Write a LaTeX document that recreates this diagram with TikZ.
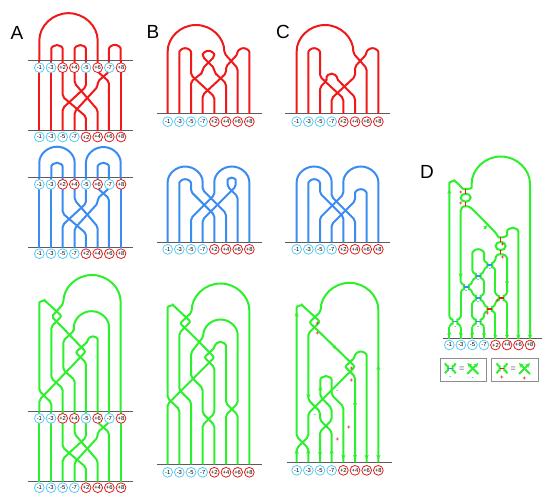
\documentclass[tikz,border=0pt]{standalone}
\usepackage{fontspec}
\setmainfont{Liberation Sans}
\usetikzlibrary{arrows.meta}

\definecolor{redS}{RGB}{240,24,24}
\definecolor{blueS}{RGB}{58,140,240}
\definecolor{greenS}{RGB}{44,240,44}
\definecolor{cyanL}{RGB}{88,204,246}
\definecolor{redL}{RGB}{226,28,28}
\definecolor{greyL}{RGB}{92,92,92}

\tikzset{
  strand/.style={line width=2pt,rounded corners=2pt},
  hline/.style={greyL,line width=1pt},
  lab/.style={circle,draw,line width=0.8pt,fill=white,inner sep=0pt,minimum size=9.8pt,font=\fontsize{5.8}{5.8}\selectfont},
  panel/.style={font=\fontsize{19}{19}\selectfont,inner sep=0pt},
  arrtip/.style={-{Stealth[length=4.5pt,width=4.2pt]},greenS,line width=1.2pt},
  pmark/.style={font=\fontsize{6}{6}\selectfont\bfseries,text=redL,inner sep=0pt},
  mmark/.style={font=\fontsize{6}{6}\selectfont\bfseries,text=blueS,inner sep=0pt},
  barb/.style={line width=1.3pt},
  legbox/.style={draw=greyL!70,line width=1pt}
}

%%%%% label rows (x0, dx, y, name)
\newcommand{\toprow}[4]{%
  \foreach \t/\c [count=\i] in {-1/cyanL,-3/cyanL,+2/redL,+4/redL,-5/cyanL,+6/redL,-7/cyanL,+8/redL}
    \node[lab,draw=\c] (#4\i) at ({#1+(\i-1)*#2},#3) {\t};}
\newcommand{\botrow}[4]{%
  \foreach \t/\c [count=\i] in {-1/cyanL,-3/cyanL,-5/cyanL,-7/cyanL,+2/redL,+4/redL,+6/redL,+8/redL}
    \node[lab,draw=\c] (#4\i) at ({#1+(\i-1)*#2},#3) {\t};}
%%%%% smoothing: tracks xa, xb, height y, bar colour
\newcommand{\smoothing}[4]{%
  \draw[strand,greenS] (#1,#3-15) .. controls (#1,#3-7) and ({(#1+#2)/2-7},#3-8) .. ({(#1+#2)/2-7},#3) .. controls ({(#1+#2)/2-7},#3+8) and (#1,#3+7) .. (#1,#3+15);
  \draw[strand,greenS] (#2,#3-15) .. controls (#2,#3-7) and ({(#1+#2)/2+7},#3-8) .. ({(#1+#2)/2+7},#3) .. controls ({(#1+#2)/2+7},#3+8) and (#2,#3+7) .. (#2,#3+15);
  \draw[#4,barb] ({(#1+#2)/2-7},#3)--({(#1+#2)/2+7},#3);}

\begin{document}
\begin{tikzpicture}[x=1pt,y=-1pt]
\useasboundingbox (0,0) rectangle (555,497);

%%%%% panel letters
\node[panel] (labA) at (17,33) {A};
\node[panel] (labB) at (153,32) {B};
\node[panel] (labC) at (283,32) {C};
\node[panel] (labD) at (427,172) {D};

%%%%% A: the same lower braid three times
\foreach \dy/\col [count=\k] in {0/redS,116.7/blueS,350.7/greenS}{
\begin{scope}[shift={(0,\dy)},scale=1/3]
\draw[hline] (85,183)--(400,183);
\draw[hline] (85,393)--(400,393);
\draw[strand,\col] (118,183)--(118,393);
\draw[strand,\col] (154,183)--(154,393);
\draw[strand,\col] (188,183)--(188,290)--(258,350)--(258,393);
\draw[strand,\col] (224,183)--(224,250)--(293,330)--(293,393);
\draw[strand,\col] (258,183)--(258,260)--(188,325)--(188,393);
\draw[strand,\col] (293,183)--(293,215)--(327,245)--(327,393);
\draw[strand,\col] (327,183)--(327,215)--(293,245)--(293,260)--(224,335)--(224,393);
\draw[strand,\col] (362,183)--(362,393);
\toprow{118}{35}{203}{t\k}
\botrow{118}{35}{411}{b\k}
\end{scope}}

%%%%% A red caps
\begin{scope}[scale=1/3]
\draw[strand,redS] (118,183)--(118,127) arc[start angle=180,end angle=360,radius=87.5]--(293,183);
\draw[strand,redS] (154,183)--(154,152) arc[start angle=180,end angle=360,radius=17]--(188,183);
\draw[strand,redS] (224,183)--(224,152) arc[start angle=180,end angle=360,radius=17]--(258,183);
\draw[strand,redS] (327,183)--(327,152) arc[start angle=180,end angle=360,radius=17.5]--(362,183);
\end{scope}

%%%%% A blue caps
\begin{scope}[shift={(0,116.7)},scale=1/3]
\draw[strand,blueS] (118,183)--(118,143) arc[start angle=180,end angle=360,radius=53]--(224,183);
\draw[strand,blueS] (154,183)--(154,155) arc[start angle=180,end angle=360,radius=17]--(188,183);
\draw[strand,blueS] (258,183)--(258,143) arc[start angle=180,end angle=360,radius=52]--(362,183);
\draw[strand,blueS] (293,183)--(293,155) arc[start angle=180,end angle=360,radius=17]--(327,183);
\end{scope}

%%%%% A green upper part
\begin{scope}[shift={(30,270)},scale=1/3]
\draw[strand,greenS] (272,425)--(272,101) arc[start angle=0,end angle=-180,radius=86]--(65,140)--(97,172)--(167,245)--(28,390)--(28,425);
\draw[strand,greenS] (64,425)--(64,398)--(28,363)--(28,104) arc[start angle=180,end angle=315,radius=12]--(95,138)--(64,170)--(64,325)--(98,355)--(98,425);
\draw[strand,greenS] (237,425)--(237,176) arc[start angle=0,end angle=-180,radius=52.5]--(132,182)--(100,212)--(100,300)--(134,330)--(134,425);
\draw[strand,greenS] (203,425)--(203,213) arc[start angle=0,end angle=-180,radius=14]--(137,247)--(168,278)--(168,425);
\end{scope}

%%%%% B red
\begin{scope}[shift={(160,40)},scale=1/3]
\draw[hline] (-10,221)--(305,221);
\draw[strand,redS] (23,221)--(23,40) arc[start angle=180,end angle=360,radius=85]--(233,85)--(233,221);
\draw[strand,redS] (268,221)--(268,42) arc[start angle=0,end angle=-180,radius=17.5]--(198,80)--(198,100)--(128,165)--(128,221);
\draw[strand,redS] (58,221)--(58,42) arc[start angle=180,end angle=360,radius=17.5]--(93,105)--(163,170)--(163,221);
\draw[strand,redS] (198,221)--(198,130)--(163,97)--(163,85)--(128,50) arc[start angle=180,end angle=360,radius=17.5]--(128,85)--(128,97)--(93,125)--(93,221);
\botrow{23}{35}{245}{Br}
\end{scope}

%%%%% B blue
\begin{scope}[shift={(160,165)},scale=1/3]
\draw[hline] (-10,232)--(305,232);
\draw[strand,blueS] (23,232)--(23,57) arc[start angle=180,end angle=360,radius=52.5]--(128,75)--(198,145)--(198,232);
\draw[strand,blueS] (58,232)--(58,60) arc[start angle=180,end angle=360,radius=17.5]--(93,80)--(163,150)--(163,232);
\draw[strand,blueS] (268,232)--(268,57) arc[start angle=0,end angle=-180,radius=52.5]--(163,90)--(93,160)--(93,232);
\draw[strand,blueS] (233,232)--(233,95)--(203,65)--(203,50) arc[start angle=180,end angle=360,radius=12]--(227,65)--(198,94)--(128,164)--(128,232);
\botrow{23}{35}{253}{Bb}
\end{scope}

%%%%% B green
\begin{scope}[shift={(150,270)},scale=1/3]
\draw[hline] (20,583)--(335,583);
\draw[strand,greenS] (298,583)--(298,127) arc[start angle=0,end angle=-180,radius=86.5]--(90,160)--(122,190)--(193,262)--(53,402)--(53,583);
\draw[strand,greenS] (88,583)--(88,418)--(53,385)--(53,118) arc[start angle=180,end angle=315,radius=12]--(122,155)--(88,189)--(88,360)--(123,395)--(123,583);
\draw[strand,greenS] (228,583)--(228,435)--(263,400)--(263,200) arc[start angle=0,end angle=-180,radius=51.5]--(123,248)--(123,320)--(158,355)--(158,430)--(193,465)--(193,583);
\draw[strand,greenS] (263,583)--(263,435)--(228,400)--(228,232) arc[start angle=0,end angle=-180,radius=16.5]--(163,262)--(193,292)--(193,430)--(158,465)--(158,583);
\botrow{53}{35}{607}{Bg}
\end{scope}

%%%%% C red
\begin{scope}[shift={(290,40)},scale=1/3]
\draw[hline] (-15,221)--(300,221);
\draw[strand,redS] (20,221)--(20,40) arc[start angle=180,end angle=360,radius=85]--(230,85)--(230,221);
\draw[strand,redS] (265,221)--(265,42) arc[start angle=0,end angle=-180,radius=17.5]--(195,80)--(195,110)--(125,175)--(125,221);
\draw[strand,redS] (55,221)--(55,42) arc[start angle=180,end angle=360,radius=17.5]--(90,110)--(160,175)--(160,221);
\draw[strand,redS] (90,221)--(90,142)--(110,122)--(110,116) arc[start angle=180,end angle=360,radius=15]--(195,172)--(195,221);
\botrow{20}{35}{245}{Cr}
\end{scope}

%%%%% C blue
\begin{scope}[shift={(290,165)},scale=1/3]
\draw[hline] (-15,232)--(300,232);
\draw[strand,blueS] (20,232)--(20,57) arc[start angle=180,end angle=360,radius=52.5]--(125,95)--(195,165)--(195,232);
\draw[strand,blueS] (55,232)--(55,60) arc[start angle=180,end angle=360,radius=17.5]--(90,85)--(160,155)--(160,232);
\draw[strand,blueS] (265,232)--(265,57) arc[start angle=0,end angle=-180,radius=52.5]--(160,88)--(90,158)--(90,232);
\draw[strand,blueS] (230,232)--(230,90) arc[start angle=0,end angle=-180,radius=17.5]--(195,108)--(125,178)--(125,232);
\botrow{20}{35}{253}{Cb}
\end{scope}

%%%%% C green, with orientations
\begin{scope}[shift={(280,270)},scale=1/3]
\draw[hline] (20,577)--(335,577);
\draw[strand,greenS] (295,577)--(295,125) arc[start angle=0,end angle=-180,radius=86.5]--(88,157)--(120,188)--(225,290)--(195,320)--(85,430)--(85,500)--(50,535)--(50,577);
\draw[strand,greenS] (85,577)--(85,535)--(50,500)--(50,118) arc[start angle=180,end angle=315,radius=12]--(120,155)--(85,190)--(85,390)--(120,425)--(120,450)--(155,485)--(155,577);
\draw[strand,greenS] (260,577)--(260,262) arc[start angle=0,end angle=-180,radius=17.5]--(195,290)--(225,320)--(225,577);
\draw[strand,greenS] (120,577)--(120,485)--(155,450)--(155,415)--(121,380)--(121,335) arc[start angle=180,end angle=360,radius=17]--(155,375)--(190,410)--(190,577);
\foreach \x in {50,85,120,155} \draw[arrtip] (\x,550)--(\x,538);
\foreach \x in {190,225,260,295} \draw[arrtip] (\x,555)--(\x,568);
\draw[arrtip] (50,140)--(50,126);
\draw[arrtip] (85,372)--(85,386);
\draw[arrtip] (295,300)--(295,286);
\draw[arrtip] (160,228)--(170,238);
\draw[arrtip] (225,400)--(225,412);
\draw[arrtip] (121,360)--(121,348);
\foreach \x/\y [count=\j] in {112/160,112/192,214/296,214/331,207/472,172/508}
  \node[pmark] (Cp\j) at (\x,\y) {+};
\foreach \x/\y [count=\j] in {172/366,143/404,105/437,141/472}
  \node[mmark] (Cm\j) at (\x,\y) {-};
\botrow{50}{35}{601}{Cg}
\end{scope}

%%%%% D: smoothed diagram
\begin{scope}[shift={(410,150)},scale=1/3]
\draw[hline] (98,567)--(395,567);
\draw[strand,greenS] (118,500)--(118,105) arc[start angle=180,end angle=315,radius=12] .. controls (152,108) and (157,117) .. (167,117) .. controls (177,117) and (185,115) .. (185,107) arc[start angle=180,end angle=360,radius=87.5]--(360,567);
\draw[greenS,line width=2pt] (167,143) ellipse[x radius=15,y radius=12];
\draw[strand,greenS] (152,396)--(152,190) .. controls (152,176) and (158,169) .. (167,169) .. controls (176,169) and (182,173) .. (190,180)--(256,247) .. controls (262,256) and (265,262) .. (272,262) .. controls (281,262) and (291,258) .. (291,250) arc[start angle=180,end angle=360,radius=17]--(325,567);
\draw[greenS,line width=2pt] (272,288) ellipse[x radius=15,y radius=12.5];
\draw[strand,greenS] (256,330) .. controls (256,318) and (263,313) .. (272,313) .. controls (281,313) and (291,318) .. (291,330)--(291,429);
\draw[strand,greenS] (187,363)--(187,315) arc[start angle=180,end angle=360,radius=17.5]--(222,330);
\foreach \x/\a/\b in {118/530/567,152/426/500,152/530/567,187/393/396,187/426/429,187/459/500,187/530/567,222/360/363,222/393/429,222/459/462,222/492/500,222/530/567,256/360/429,256/459/462,256/492/567,291/459/567}
  \draw[strand,greenS] (\x,\a)--(\x,\b);
\foreach \xa/\xb/\y/\c in {222/256/345/blueS,187/222/378/blueS,152/187/411/blueS,187/222/444/blueS,256/291/444/redS,222/256/477/redS,118/152/515/blueS,187/222/515/blueS}
  \smoothing{\xa}{\xb}{\y}{\c};
\draw[redS,barb] (167,117)--(167,131);
\draw[redS,barb] (167,155)--(167,169);
\draw[redS,barb] (272,262)--(272,275.5);
\draw[redS,barb] (272,300.5)--(272,313);
\foreach \x in {118,152,187,222} \draw[arrtip] (\x,553)--(\x,541);
\foreach \x in {256,291,325,360} \draw[arrtip] (\x,554)--(\x,567);
\draw[arrtip] (118,132)--(118,118);
\draw[arrtip] (152,370)--(152,384);
\draw[arrtip] (222,236)--(232,226);
\draw[arrtip] (291,395)--(291,407);
\foreach \x/\y [count=\j] in {153/128,153/162,278/284,278/322,262/452,232/492}
  \node[pmark] (Dp\j) at (\x,\y) {+};
\foreach \x/\y [count=\j] in {240/358,204/392,168/425,204/458,136/532,204/532}
  \node[mmark] (Dm\j) at (\x,\y) {-};
\botrow{118}{34.6}{585}{D}
%%%%% legend
\draw[legbox] (90,625) rectangle (230,695);
\draw[legbox] (245,625) rectangle (385,695);
\smoothing{105}{137}{655}{blueS}
\node[text=greyL,font=\fontsize{9}{9}\selectfont] (eqA) at (155,657) {=};
\draw[arrtip,line width=2pt] (172,672)--(205,639);
\draw[arrtip,line width=2pt] (205,672)--(172,639);
\node[mmark] (legm1) at (121,683) {-};
\node[mmark] (legm2) at (188,686) {-};
\smoothing{260}{292}{655}{redS}
\node[text=greyL,font=\fontsize{9}{9}\selectfont] (eqB) at (310,657) {=};
\draw[arrtip,line width=2pt] (327,672)--(360,639);
\draw[arrtip,line width=2pt] (360,672)--(327,639);
\node[pmark] (legp1) at (276,683) {+};
\node[pmark] (legp2) at (343,686) {+};
\end{scope}
\end{tikzpicture}
\end{document}
